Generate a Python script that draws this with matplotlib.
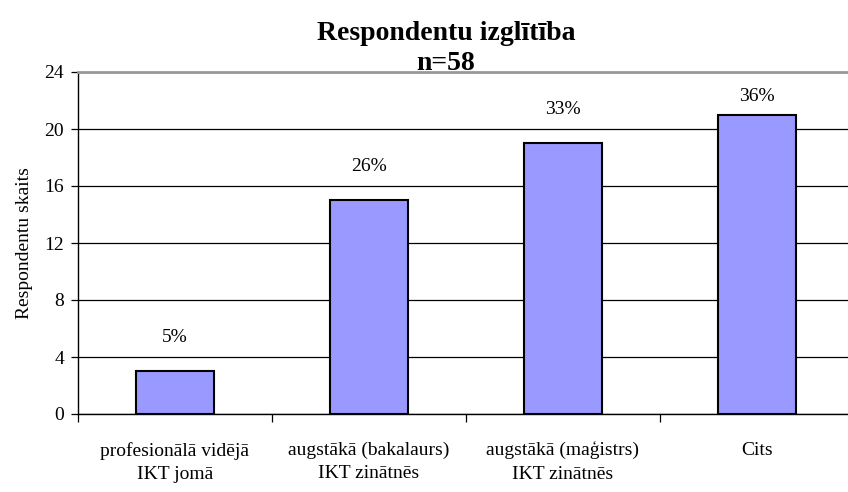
import matplotlib.pyplot as plt
import numpy as np

# Data
categories = ['profesionālā vidējā\nIKT jomā', 'augstākā (bakalaurs)\nIKT zinātnēs',
              'augstākā (maģistrs)\nIKT zinātnēs', 'Cits']
counts = [3, 15, 19, 21]
percent_labels = ['5%', '26%', '33%', '36%']

plt.rcParams['font.family'] = ['Liberation Serif', 'DejaVu Serif']

fig = plt.figure(figsize=(8.48, 4.92), dpi=100)
ax = fig.add_axes([78 / 848, 78 / 492, 776 / 848, 342 / 492])

x = np.arange(len(categories))
ax.bar(x, counts, width=0.4, color='#9999FF', edgecolor='black', linewidth=1.5, zorder=3)

# labels sit above the bars, but are kept inside the plot area (like Excel)
for xi, c, lab in zip(x, counts, percent_labels):
    ax.text(xi, min(c + 2.4, 22.3), lab, ha='center', va='center', fontsize=14)

ax.set_xlim(-0.5, 3.5)
ax.set_ylim(0, 24)
ax.set_yticks(range(0, 25, 4))
ax.yaxis.grid(True, color='black', linewidth=0.9, zorder=0)

# category labels at centres, separator ticks between
ax.set_xticks(x)
ax.set_xticklabels(categories, fontsize=14, linespacing=1.45)
ax.tick_params(axis='x', which='major', length=0, pad=20)
ax.set_xticks(np.arange(-0.5, 4, 1), minor=True)
ax.tick_params(axis='x', which='minor', length=6, width=0.9)
ax.tick_params(axis='y', length=5, width=0.9, labelsize=14, pad=5)

for side in ['left', 'bottom']:
    ax.spines[side].set_linewidth(1.0)
ax.spines['top'].set_color('#999999')
ax.spines['top'].set_linewidth(2)
ax.spines['right'].set_visible(False)

ax.set_ylabel('Respondentu skaits', fontsize=14, labelpad=8)

fig.text(446 / 848, 1 - 33 / 492, 'Respondentu izglītība', ha='center', va='center',
         fontsize=20, fontweight='bold')
fig.text(446 / 848, 1 - 63 / 492, 'n=58', ha='center', va='center',
         fontsize=20, fontweight='bold')

fig.savefig('out.png', dpi=100)
